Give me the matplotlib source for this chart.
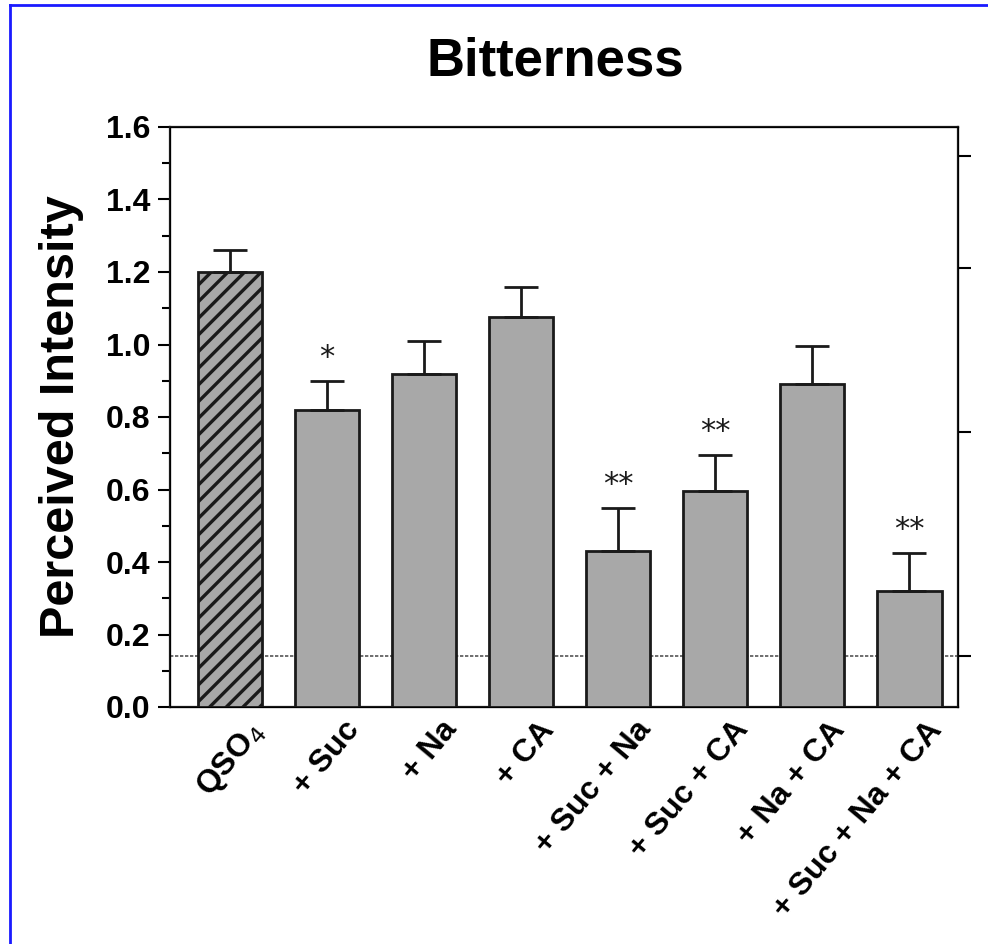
import matplotlib
matplotlib.use("Agg")
import matplotlib.pyplot as plt
from matplotlib.lines import Line2D
import matplotlib.transforms as mtransforms
import numpy as np

categories = ["QSO$_4$", "+ Suc", "+ Na", "+ CA", "+ Suc + Na", "+ Suc + CA", "+ Na + CA", "+ Suc + Na + CA"]
means = [1.20, 0.82, 0.92, 1.075, 0.43, 0.595, 0.89, 0.32]
errors = [0.06, 0.08, 0.09, 0.085, 0.12, 0.10, 0.105, 0.105]
stars = ["", "*", "", "", "**", "**", "", "**"]
threshold = 0.14
right_ticks = [0.14, 0.76, 1.21, 1.52]

plt.rcParams['font.family'] = ['Liberation Sans', 'DejaVu Sans']
plt.rcParams['hatch.linewidth'] = 2.4

fig = plt.figure(figsize=(9.88, 9.44), dpi=100)
ax = fig.add_axes([170/988, 1-707/944, (958-170)/988, (707-127)/944])

x = np.arange(len(categories))
colors = ['#a8a8a8'] * len(categories)
bars = ax.bar(x, means, width=0.66, color=colors, edgecolor='#1a1a1a', linewidth=2.0, zorder=3)
bars[0].set_hatch('//')
ax.errorbar(x, means, yerr=[np.zeros(len(means)), errors], fmt='none', ecolor='#1a1a1a',
            elinewidth=2.0, capsize=12, capthick=2.0, zorder=4)

for xi, m, e, s in zip(x, means, errors, stars):
    if s:
        ax.text(xi, m + e + 0.025, s, ha='center', va='bottom', fontsize=22,
                family='DejaVu Sans', color='#1a1a1a')

ax.axhline(threshold, color='#555555', linestyle=(0, (2, 1)), linewidth=1.2, zorder=1)

ax.set_xlim(-0.62, 7.5)
ax.set_ylim(0, 1.6)
ax.set_yticks(np.arange(0, 1.61, 0.2))
ax.set_yticks(np.arange(0.1, 1.6, 0.2), minor=True)
ax.set_yticklabels([f"{v:.1f}" for v in np.arange(0, 1.61, 0.2)], fontsize=23, fontweight='bold')
ax.tick_params(axis='y', which='major', direction='out', length=9, width=1.5, pad=5)
ax.tick_params(axis='y', which='minor', direction='out', length=6, width=1.5)
ax.set_xticks(x)
ax.set_xticklabels(categories, rotation=50, ha='right', rotation_mode='anchor',
                   fontsize=23, fontweight='bold')
ax.tick_params(axis='x', length=0, pad=6)
offset = mtransforms.ScaledTranslation(16/100, 0, fig.dpi_scale_trans)
for lbl in ax.get_xticklabels():
    lbl.set_transform(lbl.get_transform() + offset)
for sp in ax.spines.values():
    sp.set_linewidth(1.6)
    sp.set_color('#1a1a1a')

ax2 = ax.twinx()
ax2.set_ylim(0, 1.6)
ax2.set_yticks(right_ticks)
ax2.set_yticklabels([])
ax2.tick_params(axis='y', direction='out', length=9, width=1.5)

ax.set_ylabel("Perceived Intensity", fontsize=35, fontweight='bold', labelpad=16)
fig.text(555/988, 1-62/944, "Bitterness", ha='center', va='center', fontsize=38, fontweight='bold')

fig.add_artist(Line2D([10/988, 10/988], [0, 1-5/944], transform=fig.transFigure, color='#1a1aff', linewidth=2))
fig.add_artist(Line2D([10/988, 1], [1-5/944, 1-5/944], transform=fig.transFigure, color='#1a1aff', linewidth=2))

fig.savefig("out.png", dpi=100)
